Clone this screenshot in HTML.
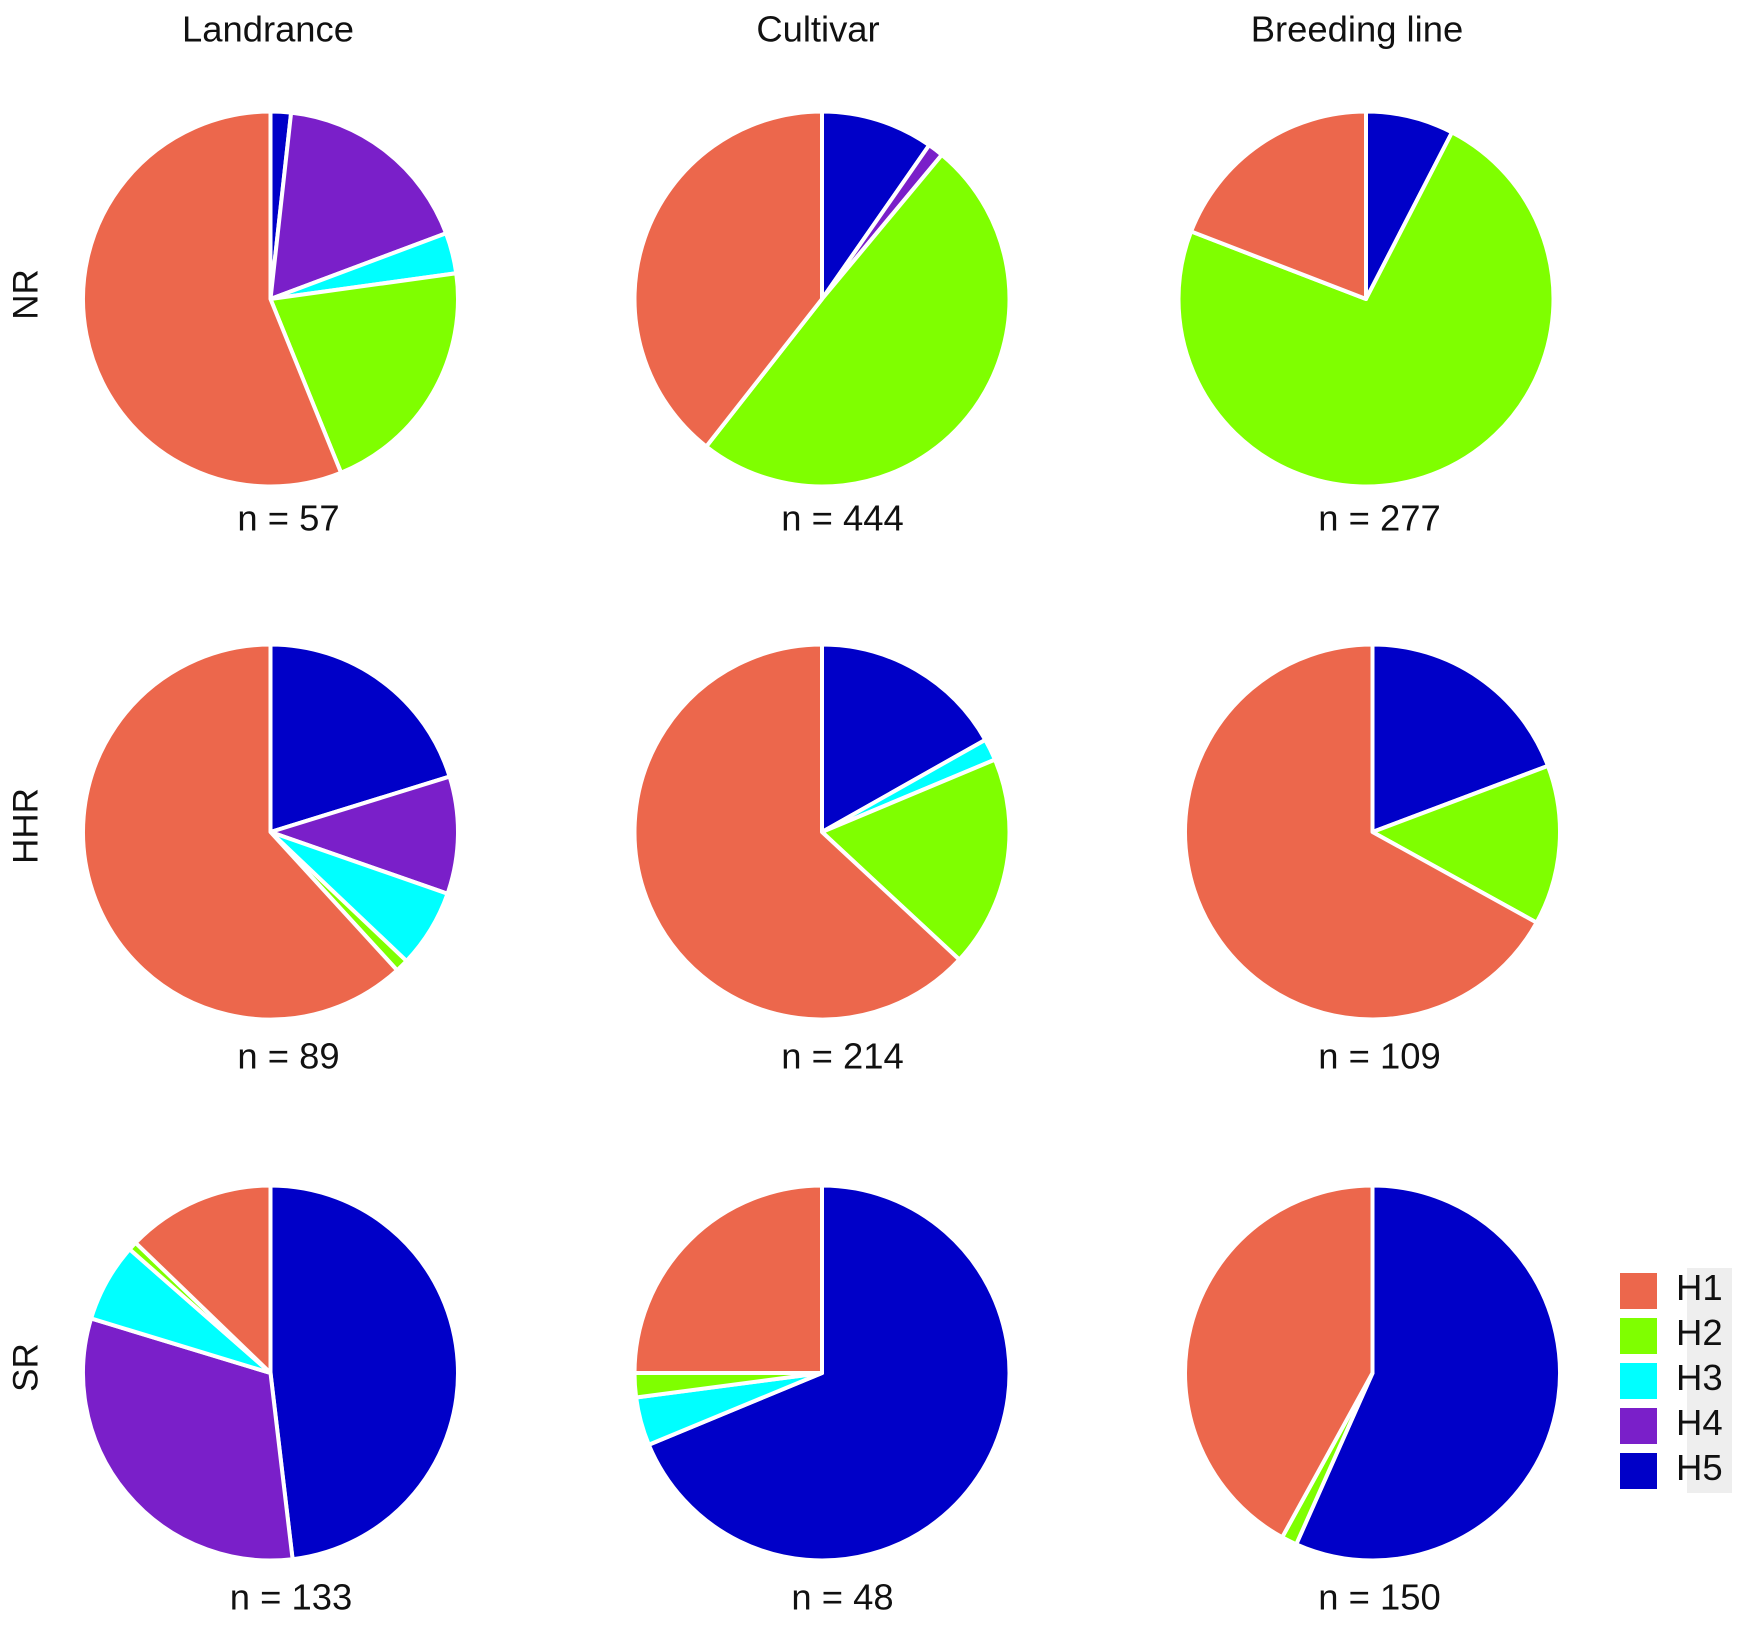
<!DOCTYPE html>
<html lang="en">
<head>
<meta charset="utf-8">
<title>Haplotype proportions by region and germplasm type</title>
<style>
  html,body{margin:0;padding:0;background:#fff;}
  body{width:1750px;height:1630px;overflow:hidden;}
  svg{display:block;}
  text{font-family:"Liberation Sans",Arial,sans-serif;fill:#111;}
</style>
</head>
<body>
<svg id="chart" xmlns="http://www.w3.org/2000/svg" width="1750" height="1630" viewBox="0 0 1750 1630">
  <rect x="1687" y="1268" width="45" height="225" fill="#eeeeee"/>
</svg>
<script>
// Category names and colours
const haplotypes = ['H1', 'H2', 'H3', 'H4', 'H5'];
const colors = ['#EC674C', '#7FFF00', '#00FFFF', '#7A1FC9', '#0000C8'];
const columnTitles = ['Landrance', 'Cultivar', 'Breeding line'];
const rowTitles = ['NR', 'HHR', 'SR'];

// Counts per haplotype: [H1, H2, H3, H4, H5]
const nrLandrance = [32, 12, 2, 10, 1];
const nrCultivar = [175, 220, 0, 6, 43];
const nrBreeding = [53, 203, 0, 0, 21];
const hhrLandrance = [55, 1, 6, 9, 18];
const hhrCultivar = [135, 39, 4, 0, 36];
const hhrBreeding = [73, 15, 0, 0, 21];
const srLandrance = [17, 1, 9, 42, 64];
const srCultivar = [12, 1, 2, 0, 33];
const srBreeding = [63, 2, 0, 0, 85];

const pies = [
  [nrLandrance, nrCultivar, nrBreeding],
  [hhrLandrance, hhrCultivar, hhrBreeding],
  [srLandrance, srCultivar, srBreeding]
];

const svg = document.getElementById('chart');
const NS = 'http://www.w3.org/2000/svg';
const radius = 187.5;

function pieCenterX(row, col) {
  if (row === 0 && col === 2) return 1366;
  return [270.5, 822, 1372.5][col];
}
function pieCenterY(row) {
  return [299, 832, 1373][row];
}
function labelX(row, col) {
  return [row === 2 ? 291 : 288.5, 842.5, 1379.5][col];
}
function labelY(row) {
  return [518, 1056, 1597][row];
}
function polar(cx, cy, r, angle) {
  return [cx + r * Math.sin(angle), cy - r * Math.cos(angle)];
}
function slicePath(cx, cy, r, a0, a1) {
  const p0 = polar(cx, cy, r, a0);
  const p1 = polar(cx, cy, r, a1);
  const large = a1 - a0 > Math.PI ? 1 : 0;
  return 'M' + cx + ' ' + cy + 'L' + p0[0] + ' ' + p0[1] +
    'A' + r + ' ' + r + ' 0 ' + large + ' 1 ' + p1[0] + ' ' + p1[1] + 'Z';
}
function addText(str, x, y, size, anchor) {
  const t = document.createElementNS(NS, 'text');
  t.setAttribute('x', x);
  t.setAttribute('y', y);
  t.setAttribute('font-size', size);
  t.setAttribute('text-anchor', anchor);
  t.setAttribute('dominant-baseline', 'central');
  t.textContent = str;
  svg.appendChild(t);
  return t;
}

// Column titles
const titleX = [268, 818, 1357];
columnTitles.forEach(function (title, c) {
  const t = addText(title, titleX[c], 29, 36.4, 'middle');
  
  
});

// Row titles
const rowTitleY = [294.5, 826, 1367.5];
rowTitles.forEach(function (title, r) {
  const t = addText(title, 0, 0, 35, 'middle');
  t.setAttribute('transform', 'translate(26 ' + rowTitleY[r] + ') rotate(-90)');
  
  
});

// Pies: slices run clockwise from 12 o'clock, H5 first and H1 last
pies.forEach(function (rowPies, r) {
  rowPies.forEach(function (values, c) {
    const cx = pieCenterX(r, c);
    const cy = pieCenterY(r);
    const total = values.reduce(function (a, b) { return a + b; }, 0);
    const g = document.createElementNS(NS, 'g');
    
    
    svg.appendChild(g);
    let angle = 0;
    for (let i = values.length - 1; i >= 0; i--) {
      if (values[i] <= 0) continue;
      const next = angle + values[i] / total * Math.PI * 2;
      const path = document.createElementNS(NS, 'path');
      path.setAttribute('d', slicePath(cx, cy, radius, angle, next));
      path.setAttribute('fill', colors[i]);
      path.setAttribute('stroke', '#ffffff');
      path.setAttribute('stroke-width', '4');
      path.setAttribute('stroke-linejoin', 'round');
      
      
      g.appendChild(path);
      angle = next;
    }
    const label = addText('n = ' + total, labelX(r, c), labelY(r), 36.4, 'middle');
    
    
  });
});

// Legend
haplotypes.forEach(function (name, i) {
  const top = 1273 + i * 45;
  const swatch = document.createElementNS(NS, 'rect');
  swatch.setAttribute('x', 1620);
  swatch.setAttribute('y', top);
  swatch.setAttribute('width', 37);
  swatch.setAttribute('height', 36);
  swatch.setAttribute('fill', colors[i]);
  
  
  svg.appendChild(swatch);
  const t = addText(name, 1676, top + 14.5, 36.5, 'start');
  
  
});
</script>
</body>
</html>
